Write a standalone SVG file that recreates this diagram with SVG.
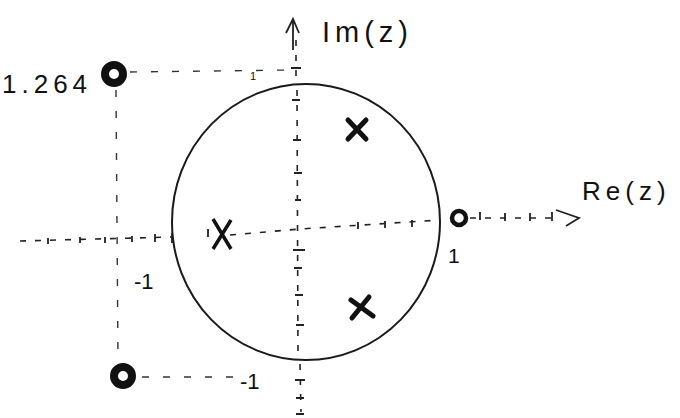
<svg xmlns="http://www.w3.org/2000/svg" width="680" height="418" viewBox="0 0 680 418">
<defs>
<style>
.lbl{font-family:"Liberation Sans","DejaVu Sans",sans-serif;fill:#111;}
.ax{stroke:#222;stroke-width:1.6;fill:none;stroke-dasharray:6 9;}
.guide{stroke:#333;stroke-width:1.4;fill:none;stroke-dasharray:7 14;}
.tick{stroke:#222;stroke-width:1.8;fill:none;}
.pole{stroke:#111;stroke-width:5;stroke-linecap:round;fill:none;}
.zero{fill:#fff;stroke:#111;}
</style>
</defs>
<rect width="680" height="418" fill="#fff"/>
<g id="connectors">
<!-- real axis -->
<path class="ax" d="M20 241 L172 237"/>
<path class="ax" d="M230 235 L300 229 L440 220"/>
<path class="ax" d="M470 218 L560 218"/>
<path class="tick" d="M556 210 L579 218 L566 226"/>
<!-- real-axis ticks -->
<path class="tick" d="M48 238 v6 M80 237 v6 M105 237 v6 M132 236 v6 M155 234 v8 M172 233 v10 M208 229 v8 M358 222 v7 M385 221 v7 M412 220 v7 M480 212 v8 M505 213 v8 M530 213 v8 M552 212 v9"/>
<!-- imaginary axis -->
<path class="ax" d="M296 40 L296 84 M297 90 L298 355 M300 364 L301 412"/>
<path class="tick" d="M293 20 L293 50 M286 33 L293 19 L299 33"/>
<path class="tick" d="M291 68 h10 M292 100 h8 M293 140 h8 M294 173 h8 M295 200 h6 M293 250 h12 M294 268 h8 M295 295 h8 M296 325 h8 M295 380 h10 M296 398 h8 M296 414 h8"/>
<!-- guide lines to zeros -->
<path class="guide" d="M130 72 L290 70"/>
<path class="guide" d="M116 90 L118 360"/>
<path class="guide" d="M142 377 L240 377"/>
<!-- unit circle -->
<ellipse cx="306" cy="222" rx="134" ry="138" fill="none" stroke="#1a1a1a" stroke-width="2"/>
</g>
<g id="zero-top">
<circle class="zero" cx="114" cy="74" r="9" stroke-width="8"/>
</g>
<g id="zero-bottom">
<circle class="zero" cx="123" cy="376" r="9" stroke-width="8"/>
</g>
<g id="zero-right">
<circle class="zero" cx="459" cy="218" r="7" stroke-width="4.5"/>
</g>
<g id="pole-top">
<path class="pole" d="M348 120 L366 139 M366 120 L348 139"/>
</g>
<g id="pole-bottom">
<path class="pole" d="M351 300 L373 316 M369 297 L352 318"/>
</g>
<g id="pole-center">
<path d="M213 219 L231 249 M231 220 L213 249" stroke="#111" stroke-width="3.5" fill="none"/>
</g>
<g id="labels">
<text class="lbl" x="2" y="93" font-size="26" letter-spacing="5">1.264</text>
<text class="lbl" x="322" y="42" font-size="29" letter-spacing="5">Im(z)</text>
<text class="lbl" x="582" y="200" font-size="26" letter-spacing="5">Re(z)</text>
<text class="lbl" x="448" y="263" font-size="21">1</text>
<text class="lbl" x="134" y="289" font-size="22">-1</text>
<text class="lbl" x="240" y="389" font-size="22">-1</text>
<text class="lbl" x="250" y="80" font-size="11">1</text>
</g>
</svg>
